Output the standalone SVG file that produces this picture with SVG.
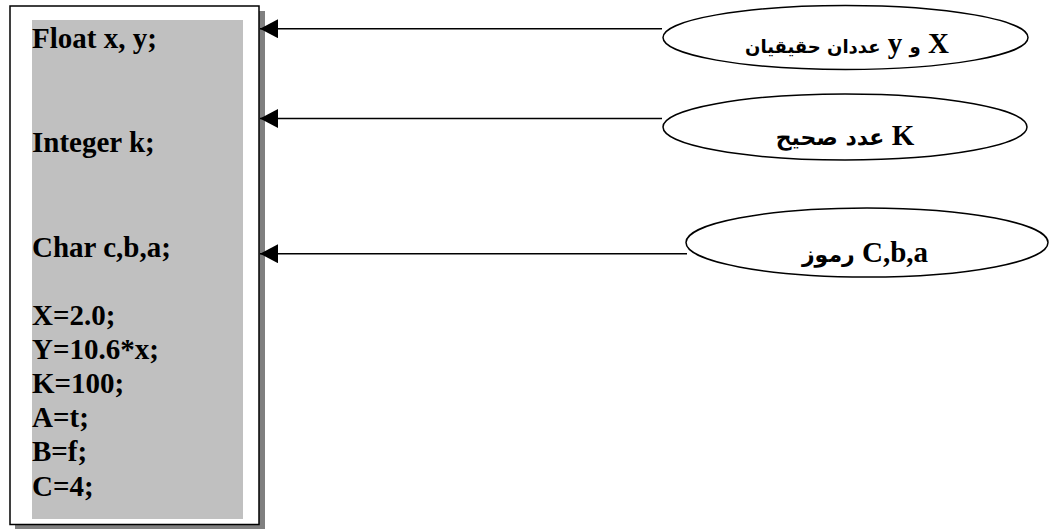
<svg xmlns="http://www.w3.org/2000/svg" width="1052" height="529" viewBox="0 0 1052 529">
<defs>
<style>
.code{font-family:"Liberation Serif","Times New Roman",serif;font-weight:bold;font-size:29px;fill:#000}
.lbl{font-family:"Liberation Serif","DejaVu Sans",serif;font-weight:bold;font-size:29px;fill:#000}
.ar{font-family:"DejaVu Sans",sans-serif;font-size:22px}
.ar1{font-family:"DejaVu Sans",sans-serif;font-size:18px}
.conn{stroke:#000;stroke-width:1.5;fill:none}
.ell{stroke:#000;stroke-width:1.5;fill:#fff}
</style>
<marker id="arr" markerWidth="18" markerHeight="19" refX="18" refY="9.5" orient="auto" markerUnits="userSpaceOnUse" viewBox="0 0 18 19">
<path d="M18,9.5 L0,0 L0,19 Z" fill="#000"/>
</marker>
</defs>
<rect width="1052" height="529" fill="#fff"/>
<g id="code-box">
<rect x="15" y="11" width="250" height="520" fill="#808080"/>
<rect x="10" y="6" width="249" height="518.5" fill="#fff" stroke="#000" stroke-width="1.5"/>
<rect x="32" y="20" width="211" height="499" fill="#c0c0c0"/>
<text class="code" x="32" y="48">Float x, y;</text>
<text class="code" x="32" y="152">Integer k;</text>
<text class="code" x="32" y="257">Char c,b,a;</text>
<text class="code" x="32" y="325">X=2.0;</text>
<text class="code" x="32" y="359">Y=10.6*x;</text>
<text class="code" x="32" y="393">K=100;</text>
<text class="code" x="32" y="427">A=t;</text>
<text class="code" x="32" y="461">B=f;</text>
<text class="code" x="32" y="496">C=4;</text>
</g>
<g id="connectors">
<line class="conn" x1="662" y1="28.7" x2="260" y2="28.7" marker-end="url(#arr)"/>
<line class="conn" x1="662" y1="118.5" x2="260" y2="118.5" marker-end="url(#arr)"/>
<line class="conn" x1="687" y1="253.7" x2="260" y2="253.7" marker-end="url(#arr)"/>
</g>
<g id="node-xy">
<ellipse class="ell" cx="845.5" cy="37.5" rx="182.5" ry="32"/>
<text class="lbl" x="847" y="53" text-anchor="middle" direction="rtl">X <tspan class="ar1">و</tspan> y <tspan class="ar1">عددان حقيقيان</tspan></text>
</g>
<g id="node-k">
<ellipse class="ell" cx="845" cy="127" rx="182" ry="33"/>
<text class="lbl" x="845" y="145" text-anchor="middle" direction="rtl">K <tspan class="ar">عدد صحيح</tspan></text>
</g>
<g id="node-cba">
<ellipse class="ell" cx="867" cy="242.5" rx="181" ry="34.5"/>
<text class="lbl" x="865" y="262" text-anchor="middle" direction="rtl">C,b,a <tspan class="ar">رموز</tspan></text>
</g>
</svg>
